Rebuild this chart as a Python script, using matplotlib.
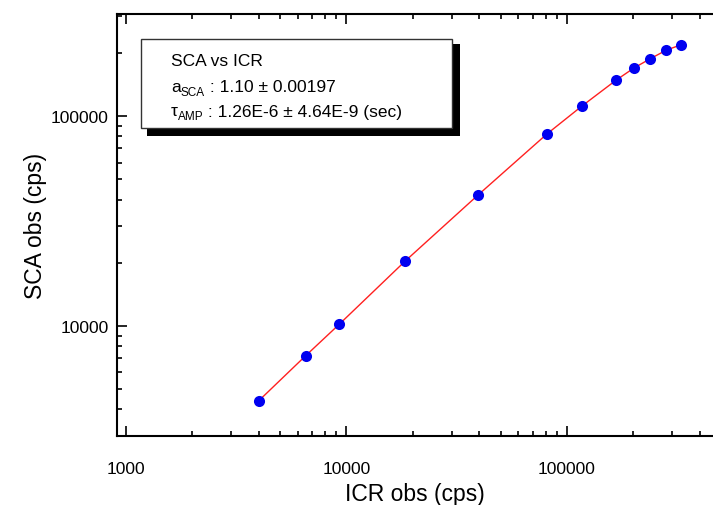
import matplotlib
matplotlib.use("Agg")
import matplotlib.pyplot as plt
from matplotlib.patches import Rectangle
from matplotlib.ticker import LogLocator, FuncFormatter, NullFormatter

plt.rcParams["font.family"] = ["Liberation Sans", "DejaVu Sans"]
plt.rcParams["mathtext.fontset"] = "custom"
plt.rcParams["mathtext.rm"] = "Liberation Sans"
plt.rcParams["mathtext.it"] = "Liberation Sans"

icr_obs = [4000, 6520, 9290, 18500, 39500, 81200, 117000, 167000, 201000, 238000, 283000, 328000]
sca_obs = [4400, 7200, 10200, 20400, 42000, 82100, 111500, 148000, 169000, 187000, 206000, 218000]

W, H = 713, 506
fig = plt.figure(figsize=(W / 100, H / 100), dpi=100)
ax = fig.add_axes([117 / W, (H - 437) / H, 1 - 117 / W, (437 - 15) / H])

ax.plot(icr_obs, sca_obs, color="#ff2020", linewidth=1.0, zorder=2)
ax.plot(icr_obs, sca_obs, "o", color="#0000f0", markersize=8, markeredgewidth=0, zorder=3)

ax.set_xscale("log")
ax.set_yscale("log")
ax.set_xlim(910, 4.6e5)
ax.set_ylim(2990, 3.06e5)

fmt = FuncFormatter(lambda v, p: f"{int(round(v))}")
for axis in (ax.xaxis, ax.yaxis):
    axis.set_major_locator(LogLocator(base=10))
    axis.set_minor_locator(LogLocator(base=10, subs=range(2, 10)))
    axis.set_major_formatter(fmt)
    axis.set_minor_formatter(NullFormatter())

ax.spines["right"].set_visible(False)
for s in ("left", "bottom", "top"):
    ax.spines[s].set_linewidth(1.5)
ax.tick_params(which="both", direction="in", top=True, right=False, width=1.2,
               labelsize=12.5, pad=18)
ax.tick_params(which="major", length=7)
ax.tick_params(which="minor", length=3.5)
ax.tick_params(axis="y", pad=6)

ax.set_xlabel("ICR obs (cps)", fontsize=16.5, labelpad=4)
ax.set_ylabel("SCA obs (cps)", fontsize=16.5, labelpad=3)

def px(x, y):
    return x / W, (H - y) / H

# shadowed info box
sx, sy = px(147, 137)
fig.add_artist(Rectangle((sx, sy), (460 - 147) / W, (137 - 45) / H,
                         transform=fig.transFigure, facecolor="black", edgecolor="none", zorder=5))
bx, by = px(141, 129)
fig.add_artist(Rectangle((bx, by), (452 - 141) / W, (129 - 40) / H,
                         transform=fig.transFigure, facecolor="white", edgecolor="#333333",
                         linewidth=1.0, zorder=6))

# text lines: main part, subscript, rest
tx, ty = px(171, 62)
fig.text(tx, ty, "SCA vs ICR", fontsize=12.5, va="center", ha="left", zorder=7)

rows = [("a", "SCA", " : 1.10 ± 0.00197", 88),
        ("τ", "AMP", " : 1.26E-6 ± 4.64E-9 (sec)", 112)]
r = fig.canvas.get_renderer()
for base, sub, rest, yc in rows:
    x0, y0 = px(171, yc)
    t1 = fig.text(x0, y0, base, fontsize=12.5, va="center", ha="left", zorder=7)
    w1 = t1.get_window_extent(r).width / W
    t2 = fig.text(x0 + w1, y0 - 5 / H, sub, fontsize=8.5, va="center", ha="left", zorder=7)
    w2 = t2.get_window_extent(r).width / W
    fig.text(x0 + w1 + w2, y0, rest, fontsize=12.5, va="center", ha="left", zorder=7)

fig.savefig("out.png", dpi=100)
